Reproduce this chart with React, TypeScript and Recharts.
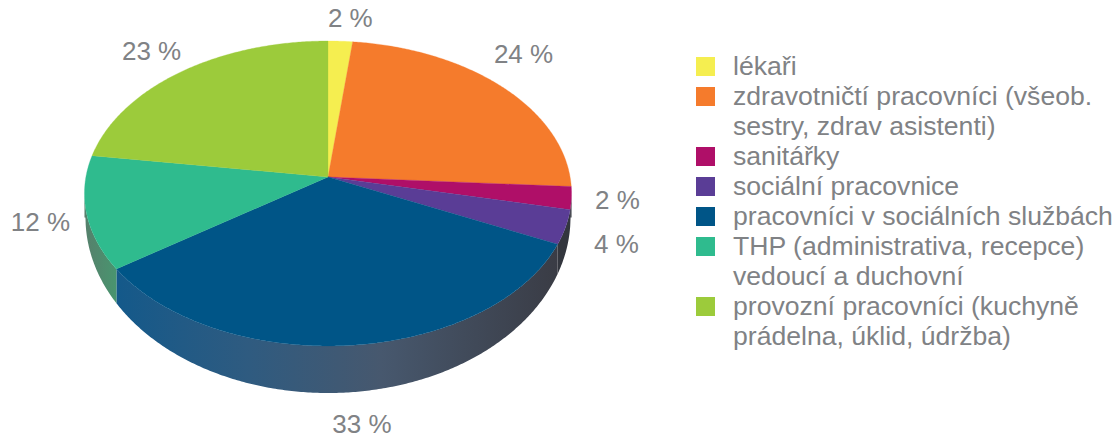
import { PieChart, Pie, Legend } from 'recharts';

const categories = [
  'lékaři',
  'zdravotničtí pracovníci (všeob.\nsestry, zdrav asistenti)',
  'sanitářky',
  'sociální pracovnice',
  'pracovníci v sociálních službách',
  'THP (administrativa, recepce)\nvedoucí a duchovní',
  'provozní pracovníci (kuchyně\nprádelna, úklid, údržba)',
];
const shares = [1.8, 24.2, 2.4, 3.6, 33.3, 12, 22.7];
const colors = ['#F5EE50', '#F57B2C', '#AF0F68', '#5A3D96', '#005587', '#2FBB8E', '#9CCB3B'];
const wallColors = ['none', 'none', '#33363E', '#33363E', 'url(#wallBlue)', 'url(#wallGreen)', 'none'];
const labelOffsets = [
  [10, -23],
  [22, -32],
  [46, 2],
  [51, 17],
  [11, 79],
  [-46, 9.5],
  [-30, -21],
];

const TEXT = '#808285';
const FONT = '"Liberation Sans", Arial, sans-serif';

const tableData = categories.map((name, i) => ({ name, value: shares[i], fill: colors[i], wall: wallColors[i] }));

// the picture is a perspective view: wedges meet above the middle of the rim ellipse
const APEX_X = 328;
const APEX_Y = 177;
const TILT = -0.108;
const SCALE_X = 242.1;
const SCALE_Y = 150.7;
const RIM_MID_Y = 193.5;

function rim(theta: number) {
  const a = (theta * Math.PI) / 180;
  const u = Math.sin(a);
  const v = -Math.cos(a);
  const den = 1 + TILT * v;
  return { x: APEX_X + (SCALE_X * u) / den, y: APEX_Y + (SCALE_Y * v) / den };
}

function rimPoints(from: number, to: number) {
  const pts = [];
  for (let t = from; t < to; t += 0.5) pts.push(rim(t));
  pts.push(rim(to));
  return pts;
}

function lowerEdge(x: number) {
  const d = Math.min(1, Math.abs(x - APEX_X) / 242.5);
  return 217.5 + 175.5 * Math.sqrt(1 - d * d);
}

const toPath = (pts: { x: number; y: number }[]) => pts.map((p, i) => `${i ? 'L' : 'M'}${p.x} ${p.y}`).join(' ');

function TopFace(props: any) {
  const pts = rimPoints(90 - props.startAngle, 90 - props.endAngle);
  return <path d={`M${APEX_X} ${APEX_Y} ${toPath(pts).replace('M', 'L')} Z`} fill={props.fill} stroke={props.fill} strokeWidth={0.3} />;
}

function Wall(props: any) {
  if (props.wall === 'none') return <g />;
  const pts = rimPoints(90 - props.startAngle, 90 - props.endAngle).filter((p) => p.y >= RIM_MID_Y);
  if (pts.length < 2) return <g />;
  const lower = pts.map((p) => ({ x: p.x, y: lowerEdge(p.x) })).reverse();
  return <path d={`${toPath(pts)} ${toPath(lower).replace('M', 'L')} Z`} fill={props.wall} />;
}

function PercentLabel(props: any) {
  const p = rim(90 - props.midAngle);
  const [dx, dy] = labelOffsets[props.index];
  return (
    <text x={p.x + dx} y={p.y + dy} textAnchor="middle" dominantBaseline="central" fill={TEXT} fontSize={26} fontFamily={FONT}>
      {`${Math.round(props.value)} %`}
    </text>
  );
}

function LegendRows({ payload }: any) {
  // both pies report their slices, keep each name once and in table order
  const rows = categories.map((name) => (payload || []).find((entry: any) => entry.value === name)).filter(Boolean);
  return (
    <div style={{ fontFamily: FONT, fontSize: 26.6, lineHeight: '30px', color: TEXT }}>
      {rows.map((entry: any) => (
        <div key={entry.value} style={{ display: 'flex', alignItems: 'flex-start' }}>
          <span style={{ width: 19, height: 19, marginTop: 6, marginRight: 18, background: entry.color, flex: 'none' }} />
          <span style={{ whiteSpace: 'pre-line' }}>{entry.value}</span>
        </div>
      ))}
    </div>
  );
}

export default function App() {
  return (
    <div style={{ position: 'absolute', left: 0, top: 0, width: 1119, height: 437 }}>
      <PieChart width={1119} height={437} margin={{ top: 0, right: 0, bottom: 0, left: 0 }}>
        <defs>
          <linearGradient id="wallBlue" gradientUnits="userSpaceOnUse" x1={117} y1={0} x2={558} y2={0}>
            <stop offset="0%" stopColor="#14598A" />
            <stop offset="30%" stopColor="#2F5B80" />
            <stop offset="60%" stopColor="#47586E" />
            <stop offset="100%" stopColor="#3A3C45" />
          </linearGradient>
          <linearGradient id="wallGreen" gradientUnits="userSpaceOnUse" x1={85} y1={0} x2={118} y2={0}>
            <stop offset="0%" stopColor="#56806C" />
            <stop offset="100%" stopColor="#48966F" />
          </linearGradient>
        </defs>
        <Pie
          data={tableData}
          dataKey="value"
          nameKey="name"
          cx={APEX_X}
          cy={APEX_Y}
          outerRadius={150}
          startAngle={90}
          endAngle={-270}
          legendType="none"
          shape={Wall}
          isAnimationActive={false}
        />
        <Pie
          data={tableData}
          dataKey="value"
          nameKey="name"
          cx={APEX_X}
          cy={APEX_Y}
          outerRadius={150}
          startAngle={90}
          endAngle={-270}
          shape={TopFace}
          label={PercentLabel}
          labelLine={false}
          isAnimationActive={false}
        />
        <Legend content={LegendRows} layout="vertical" align="left" verticalAlign="top" wrapperStyle={{ left: 696, top: 51, width: 423 }} />
      </PieChart>
    </div>
  );
}
